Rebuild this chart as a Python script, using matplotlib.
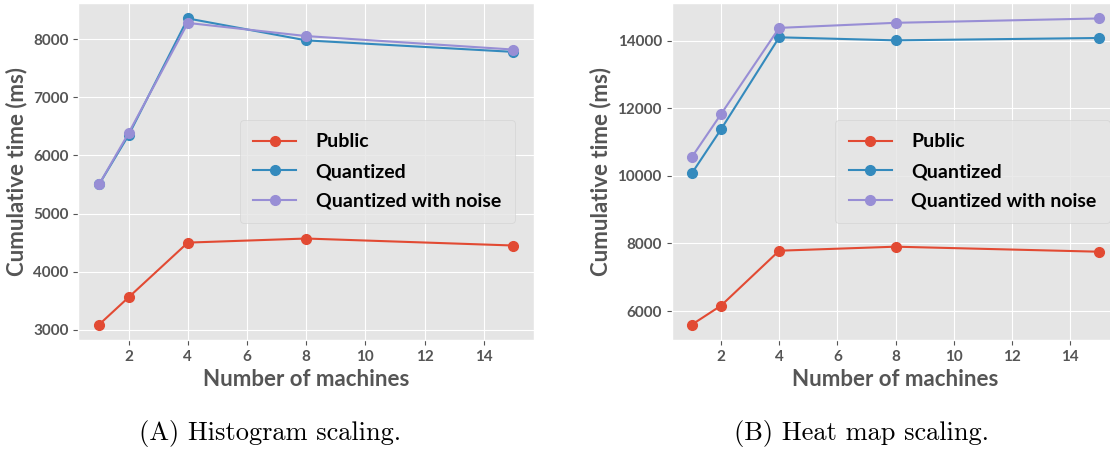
import matplotlib
matplotlib.use("Agg")
import matplotlib.pyplot as plt

plt.style.use("ggplot")
plt.rcParams["font.family"] = ["Lato", "DejaVu Sans"]

machines = [1, 2, 4, 8, 15]

# histogram scaling (ms)
hist_public = [3090, 3560, 4500, 4570, 4450]
hist_quant = [5500, 6350, 8355, 7978, 7780]
hist_noise = [5500, 6385, 8278, 8052, 7820]

# heat map scaling (ms)
heat_public = [5600, 6160, 7786, 7905, 7756]
heat_quant = [10080, 11377, 14100, 14010, 14080]
heat_noise = [10559, 11826, 14379, 14529, 14658]

series_names = ["Public", "Quantized", "Quantized with noise"]
captions = ["(A) Histogram scaling.", "(B) Heat map scaling."]

fig = plt.figure(figsize=(11.1, 4.49), dpi=100)
ax1 = fig.add_axes([0.0706, 0.243, 0.4105, 0.750])
ax2 = fig.add_axes([0.605, 0.243, 0.4036, 0.750])

for ax, data, pad in [(ax1, [hist_public, hist_quant, hist_noise], 1.0),
                      (ax2, [heat_public, heat_quant, heat_noise], 0.5)]:
    for name, vals in zip(series_names, data):
        ax.plot(machines, vals, marker="o", markersize=7, linewidth=1.5, label=name)
    ax.set_xlabel("Number of machines", fontsize=16, fontweight="bold", color="#555555")
    ax.set_ylabel("Cumulative time (ms)", fontsize=16, fontweight="bold", color="#555555")
    ax.tick_params(labelsize=11, colors="#555555")
    for lab in ax.get_xticklabels() + ax.get_yticklabels():
        lab.set_fontweight("bold")
    leg = ax.legend(loc="center right", fontsize=14, frameon=True, borderpad=0.7,
                    handlelength=2.2, handletextpad=1.0, labelspacing=0.65,
                    borderaxespad=pad)
    for t in leg.get_texts():
        t.set_fontweight("bold")
        t.set_color("black")
    leg.get_frame().set_edgecolor("#d0d0d0")

ax1.set_yticks([3000, 4000, 5000, 6000, 7000, 8000])
ax2.set_yticks([6000, 8000, 10000, 12000, 14000])

fig.text(0.243, 0.02, captions[0], fontsize=19, family="cmr10", ha="center")
fig.text(0.776, 0.02, captions[1], fontsize=19, family="cmr10", ha="center")

fig.savefig("out.png", dpi=100)
